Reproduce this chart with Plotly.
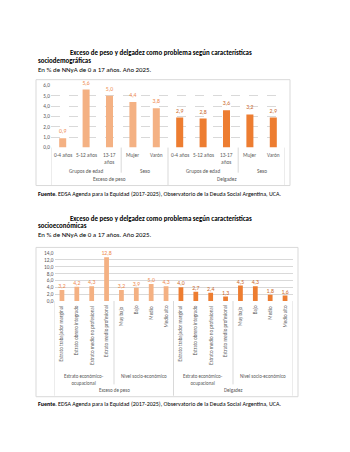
import plotly.graph_objects as go

# ---------------- data ----------------
title1_l1 = "Exceso de peso y delgadez como problema según características"
title1_l2 = "sociodemográficas"
title2_l2 = "socioeconómicas"
subtitle = "En % de NNyA de 0 a 17 años. Año 2025."
source = "<b>Fuente</b>. EDSA Agenda para la Equidad (2017-2025), Observatorio de la Deuda Social Argentina, UCA."

series_names = ["Exceso de peso", "Delgadez"]

cats1 = ["0-4 años", "5-12 años", "13-17<br>años", "Mujer", "Varón"]
groups1 = ["Grupos de edad", "Sexo"]
group1_sizes = [3, 2]
exceso1 = [0.9, 5.6, 5.0, 4.4, 3.8]
delgadez1 = [2.9, 2.8, 3.6, 3.2, 2.9]

cats2 = ["Estrato trabajador marginal", "Estrato obrero integrado",
         "Estrato medio no profesional", "Estrato medio profesional",
         "Muy bajo", "Bajo", "Medio", "Medio alto"]
groups2 = ["Estrato económico-<br>ocupacional", "Nivel socio-económico"]
group2_sizes = [4, 4]
exceso2 = [3.2, 4.2, 4.3, 12.8, 3.2, 3.9, 5.0, 4.3]
delgadez2 = [4.0, 2.7, 2.4, 1.3, 4.5, 4.3, 1.8, 1.6]

# ---------------- style ----------------
W, H = 350, 452
FONT = "Carlito, Lato, Liberation Sans, sans-serif"
LIGHT, DARK = "#F4B183", "#ED7D31"
LIGHT_TXT, DARK_TXT = "#EE8A4E", "#C9682A"
GRID = "#D9D9D9"
AX_TXT = "#595959"


def px(xp):
    return xp / W


def py(yp):
    return 1 - yp / H


fig = go.Figure()
annotations = []
shapes = []


def add_chart(xa, ya, cats, groups, sizes, s1, s2, rotate, lvl1_y, lvl2_y, lvl2_sep_y, lvl3_y, bottom_y, axis_y, fs_cat, bw):
    n = len(cats)
    xs1 = list(range(n))
    xs2 = list(range(n, 2 * n))
    for xs, vals, col, tcol, name in [(xs1, s1, LIGHT, LIGHT_TXT, series_names[0]),
                                      (xs2, s2, DARK, DARK_TXT, series_names[1])]:
        fig.add_trace(go.Bar(x=xs, y=vals, name=name, width=bw, marker_color=col,
                             marker_line_width=0,
                             texttemplate="%{y:.1f}", textposition="outside",
                             constraintext="none",
                             textfont=dict(size=5.8, color=tcol, family=FONT),
                             cliponaxis=False, xaxis=xa, yaxis=ya))
    xref = xa
    for k in range(2):
        for i, c in enumerate(cats):
            ann = dict(x=k * n + i, y=py(lvl1_y), xref=xref, yref="paper",
                       text=c, showarrow=False, xanchor="center", yanchor="top",
                       font=dict(size=fs_cat, color=AX_TXT, family=FONT))
            if rotate:
                ann["textangle"] = -90
            annotations.append(ann)
        start = k * n
        for g, s in zip(groups, sizes):
            center = start + (s - 1) / 2
            annotations.append(dict(x=center, y=py(lvl2_y), xref=xref, yref="paper",
                                    text=g, showarrow=False, xanchor="center", yanchor="top",
                                    font=dict(size=fs_cat, color=AX_TXT, family=FONT)))
            start += s
        annotations.append(dict(x=k * n + (n - 1) / 2, y=py(lvl3_y), xref=xref, yref="paper",
                                text=series_names[k], showarrow=False, xanchor="center",
                                yanchor="middle",
                                font=dict(size=fs_cat, color=AX_TXT, family=FONT)))
    for xv in [-0.5, n - 0.5, 2 * n - 0.5]:
        shapes.append(dict(type="line", xref=xref, yref="paper", x0=xv, x1=xv,
                           y0=py(axis_y), y1=py(bottom_y), line=dict(color=GRID, width=1)))
    for k in range(2):
        pos = k * n
        for s in sizes[:-1]:
            pos += s
            shapes.append(dict(type="line", xref=xref, yref="paper", x0=pos - 0.5, x1=pos - 0.5,
                               y0=py(axis_y), y1=py(lvl2_sep_y), line=dict(color=GRID, width=1)))


add_chart("x", "y", cats1, groups1, group1_sizes, exceso1, delgadez1, False,
          lvl1_y=149.3, lvl2_y=164.8, lvl2_sep_y=172, lvl3_y=178.3, bottom_y=184.5,
          axis_y=146.5, fs_cat=5.3, bw=0.3)
add_chart("x2", "y2", cats2, groups2, group2_sizes, exceso2, delgadez2, True,
          lvl1_y=304.5, lvl2_y=372.5, lvl2_sep_y=386.5, lvl3_y=392, bottom_y=398,
          axis_y=302, fs_cat=5.0, bw=0.32)

shapes.append(dict(type="rect", xref="paper", yref="paper", x0=px(36), x1=px(290),
                   y0=py(185), y1=py(77.7), line=dict(color=GRID, width=1)))
shapes.append(dict(type="rect", xref="paper", yref="paper", x0=px(36), x1=px(298),
                   y0=py(399), y1=py(247.7), line=dict(color=GRID, width=1)))


def text(x, y, t, size, bold=False, color="#000000"):
    annotations.append(dict(x=px(x), y=py(y), xref="paper", yref="paper",
                            text=f"<b>{t}</b>" if bold else t, showarrow=False,
                            xanchor="left", yanchor="middle",
                            font=dict(size=size, color=color, family=FONT)))


text(68, 50, title1_l1, 6.9, True)
text(36, 57.8, title1_l2, 6.9, True)
text(36, 67.4, subtitle, 6.9)
text(36, 194, source, 6.0)

text(68, 218.3, title1_l1, 6.9, True)
text(36, 225.6, title2_l2, 6.9, True)
text(36, 234.2, subtitle, 6.9)
text(36, 406.7, source, 6.0)

axis_common = dict(showticklabels=False, showgrid=False, zeroline=False, showline=False,
                   fixedrange=True)
fig.update_layout(
    width=W, height=H, margin=dict(l=0, r=0, t=0, b=0),
    paper_bgcolor="white", plot_bgcolor="white", showlegend=False,
    barmode="overlay", separators=",.",
    font=dict(family=FONT),
    xaxis=dict(domain=[px(51), px(285)], range=[-0.5, 9.5], anchor="y", **axis_common),
    yaxis=dict(domain=[py(146.5), py(83.5)], range=[0, 6], dtick=1, tickformat=".1f",
               gridcolor=GRID, griddash="dash", gridwidth=1, zeroline=False, anchor="x",
               ticks="", tickfont=dict(size=5.3, color=AX_TXT, family=FONT)),
    xaxis2=dict(domain=[px(54.5), px(292.5)], range=[-0.5, 15.5], anchor="y2", **axis_common),
    yaxis2=dict(domain=[py(302), py(253.5)], range=[0, 14], dtick=2, tickformat=".1f",
                gridcolor=GRID, gridwidth=1, zeroline=False, anchor="x2",
                ticks="", tickfont=dict(size=5.3, color=AX_TXT, family=FONT)),
    annotations=annotations, shapes=shapes,
)

fig.write_html("out.html")
